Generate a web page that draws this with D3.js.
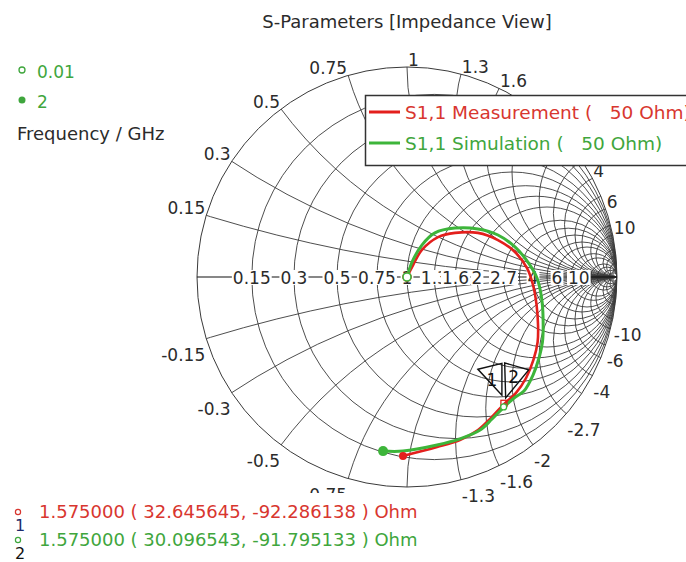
<!DOCTYPE html>
<html>
<head>
<meta charset="utf-8">
<script src="https://cdn.jsdelivr.net/npm/d3@7"></script>
<style>
  html, body { margin: 0; padding: 0; background: #fff; }
  svg { display: block; font-family: "DejaVu Sans", sans-serif; }
</style>
</head>
<body>
<script>
const measRe = [0, 0.029, 0.071, 0.148, 0.229, 0.338, 0.433, 0.514, 0.571, 0.600, 0.617, 0.624, 0.622, 0.602, 0.567, 0.519, 0.462, 0.400, 0.338, 0.252, 0.143, -0.019];
const measIm = [0, 0.057, 0.129, 0.190, 0.210, 0.210, 0.176, 0.119, 0.043, -0.038, -0.133, -0.229, -0.310, -0.395, -0.481, -0.552, -0.605, -0.671, -0.729, -0.776, -0.810, -0.852];
const simRe = [0, 0.024, 0.071, 0.133, 0.229, 0.338, 0.433, 0.514, 0.576, 0.619, 0.641, 0.648, 0.645, 0.630, 0.600, 0.557, 0.510, 0.457, 0.405, 0.348, 0.252, 0.143, -0.019, -0.114];
const simIm = [0, 0.071, 0.152, 0.210, 0.233, 0.229, 0.200, 0.143, 0.071, -0.005, -0.100, -0.195, -0.310, -0.381, -0.467, -0.543, -0.576, -0.624, -0.676, -0.729, -0.771, -0.800, -0.829, -0.829];

const freqRange = ["0.01", "2"];
const seriesNames = ["S1,1 Measurement (   50 Ohm)", "S1,1 Simulation (   50 Ohm)"];
const z0 = 50;
const markerFreq = 1.575;
const markerR = [32.645645, 30.096543];
const markerX = [-92.286138, -91.795133];

// grid values (normalized r and x)
const majorTicks = [0.15, 0.3, 0.5, 0.75, 1, 1.3, 1.6, 2, 2.7, 4, 6, 10];
const minorTicks = [3.3, 5, 8, 15, 20, 30, 50];

const colors = {
  meas: "#e31f1c", sim: "#3db53a",
  measText: "#d8362f", simText: "#3fa63d",
  grid: "#3a3a3a", text: "#2b2b2b"
};

class smithChart {
  width = 686;
  height = 562;
  cx = 407;
  cy = 277;
  radius = 210;
  legendBox = {x: 365.5, y: 95.5, w: 340, h: 70};
  panelTop = 493;

  init = () => {
    this.svg = d3.select("body").append("svg")
      .attr("width", this.width)
      .attr("height", this.height);

    this.x = d3.scaleLinear().domain([-1, 1]).range([this.cx - this.radius, this.cx + this.radius]);
    this.y = d3.scaleLinear().domain([-1, 1]).range([this.cy + this.radius, this.cy - this.radius]);
    this.k = this.radius; // pixels per unit of gamma

    this._drawGrid();
    this._drawAxisLabels();
    this._lineAdding();
    this._markers();
    this._legend();
    this._texts();
  }

  // z (normalized) -> gamma
  _gamma = (r, xx) => {
    const dr = r + 1, nr = r - 1;
    const den = dr * dr + xx * xx;
    return [(nr * dr + xx * xx) / den, (xx * dr - nr * xx) / den];
  }

  _drawGrid = () => {
    this.svg.append("clipPath").attr("id", "unit")
      .append("circle")
      .attr("cx", this.x(0)).attr("cy", this.y(0)).attr("r", this.k);

    const g = this.svg.append("g")
      .attr("clip-path", "url(#unit)")
      .attr("fill", "none")
      .attr("stroke", colors.grid)
      .attr("stroke-width", 0.9);

    const rVals = majorTicks.concat(minorTicks);
    g.selectAll(".rc").data(rVals).join("circle")
      .attr("cx", d => this.x(d / (1 + d)))
      .attr("cy", this.y(0))
      .attr("r", d => this.k / (1 + d));

    const xVals = rVals.concat(rVals.map(d => -d));
    g.selectAll(".xc").data(xVals).join("circle")
      .attr("cx", this.x(1))
      .attr("cy", d => this.y(1 / d))
      .attr("r", d => this.k / Math.abs(d));

    this.svg.append("circle")
      .attr("cx", this.x(0)).attr("cy", this.y(0)).attr("r", this.k)
      .attr("fill", "none").attr("stroke", colors.grid).attr("stroke-width", 1);

    this.svg.append("line")
      .attr("x1", this.x(-1)).attr("x2", this.x(1))
      .attr("y1", this.y(0)).attr("y2", this.y(0))
      .attr("stroke", "#111").attr("stroke-width", 1.2);
  }

  _drawAxisLabels = () => {
    const fs = 17;
    const lb = this.legendBox;
    // reactance labels around the rim
    const xVals = majorTicks.concat(majorTicks.map(d => -d));
    xVals.forEach(v => {
      const p = this._gamma(0, v);
      const px = this.x(p[0]), py = this.y(p[1]);
      const ty = v > 0 ? py - 1 : py + 22;
      // labels that sit fully under the legend box or the readout panel are not shown
      if (px > lb.x && ty > lb.y + 10 && ty < lb.y + lb.h + 10) return;
      if (ty - 12 > this.panelTop && px < 430) return;
      this.svg.append("text")
        .attr("x", p[0] < -1e-6 ? px - 1 : px + 1)
        .attr("y", ty)
        .attr("text-anchor", p[0] < -1e-6 ? "end" : "start")
        .attr("font-size", fs)
        .attr("fill", colors.text)
        .text(v > 0 ? v : "-" + Math.abs(v));
    });

    // resistance labels on the real axis, white boxes
    majorTicks.forEach(v => {
      const px = this.x((v - 1) / (v + 1));
      const t = this.svg.append("text")
        .attr("x", px).attr("y", this.y(0) + 7)
        .attr("text-anchor", "middle")
        .attr("font-size", fs)
        .attr("fill", colors.text)
        .text(v);
      const bb = t.node().getBBox();
      this.svg.insert("rect", () => t.node())
        .attr("x", bb.x - 1).attr("y", this.y(0) - 7)
        .attr("width", bb.width + 2).attr("height", 15)
        .attr("fill", "#fff");
    });
  }

  _lineAdding = () => {
    const line = d3.line()
      .x(d => this.x(d[0]))
      .y(d => this.y(d[1]))
      .curve(d3.curveCatmullRom);

    const meas = measRe.map((d, i) => [d, measIm[i]]);
    const sim = simRe.map((d, i) => [d, simIm[i]]);

    this.svg.append("path").datum(meas)
      .attr("fill", "none").attr("stroke", colors.meas).attr("stroke-width", 2.6)
      .attr("d", line);
    this.svg.append("path").datum(sim)
      .attr("fill", "none").attr("stroke", colors.sim).attr("stroke-width", 3)
      .attr("d", line);

    // start (open) and stop (filled) points
    [[meas, colors.meas, 4], [sim, colors.sim, 5]].forEach(([s, c, r]) => {
      const a = s[0], b = s[s.length - 1];
      this.svg.append("circle")
        .attr("cx", this.x(b[0])).attr("cy", this.y(b[1])).attr("r", r)
        .attr("fill", c);
      this.svg.append("circle")
        .attr("cx", this.x(a[0])).attr("cy", this.y(a[1])).attr("r", 4)
        .attr("fill", "#fff").attr("stroke", c).attr("stroke-width", 1.6);
    });
  }

  _markers = () => {
    const pts = markerR.map((r, i) => this._gamma(r / z0, markerX[i] / z0));
    const m1 = [this.x(pts[0][0]), this.y(pts[0][1])];
    const m2 = [this.x(pts[1][0]), this.y(pts[1][1])];

    this.svg.append("rect")
      .attr("x", m1[0] - 3).attr("y", m1[1] - 3).attr("width", 6).attr("height", 6)
      .attr("fill", "none").attr("stroke", colors.meas).attr("stroke-width", 1.3);
    this.svg.append("circle")
      .attr("cx", m2[0]).attr("cy", m2[1]).attr("r", 3)
      .attr("fill", "#fff").attr("stroke", colors.sim).attr("stroke-width", 1.3);

    const flag = (pts) => pts.map(p => p.join(",")).join(" ");
    this.svg.append("polygon")
      .attr("points", flag([[m1[0] - 26, m1[1] - 34], [m1[0] - 2, m1[1] - 40], [m1[0] - 2, m1[1] - 8]]))
      .attr("fill", "none").attr("stroke", "#111").attr("stroke-width", 1.4);
    this.svg.append("polygon")
      .attr("points", flag([[m2[0] + 1, m2[1] - 44], [m2[0] + 25, m2[1] - 37], [m2[0] + 2, m2[1] - 9]]))
      .attr("fill", "none").attr("stroke", "#111").attr("stroke-width", 1.4);
    this.svg.append("text").attr("x", m1[0] - 12).attr("y", m1[1] - 17)
      .attr("text-anchor", "middle").attr("font-size", 17).attr("fill", "#111").text("1");
    this.svg.append("text").attr("x", m2[0] + 10).attr("y", m2[1] - 24)
      .attr("text-anchor", "middle").attr("font-size", 17).attr("fill", "#111").text("2");
  }

  _legend = () => {
    const lb = this.legendBox;
    const lg = this.svg.append("g");
    lg.append("rect")
      .attr("x", lb.x).attr("y", lb.y).attr("width", lb.w).attr("height", lb.h)
      .attr("fill", "#fff").attr("stroke", "#333").attr("stroke-width", 1.5);
    [[colors.meas, colors.measText, 112], [colors.sim, colors.simText, 143]].forEach(([c, tc, yy], i) => {
      lg.append("line")
        .attr("x1", 369).attr("x2", 400).attr("y1", yy).attr("y2", yy)
        .attr("stroke", c).attr("stroke-width", 3);
      lg.append("text")
        .attr("x", 405).attr("y", yy + 7)
        .attr("font-size", 18.5).attr("fill", tc)
        .style("white-space", "pre")
        .text(seriesNames[i]);
    });

    // frequency range legend
    const fl = this.svg.append("g");
    fl.append("circle").attr("cx", 22).attr("cy", 70).attr("r", 3)
      .attr("fill", "none").attr("stroke", colors.simText).attr("stroke-width", 1.3);
    fl.append("circle").attr("cx", 22).attr("cy", 100).attr("r", 3.5)
      .attr("fill", colors.simText);
    fl.append("text").attr("x", 37).attr("y", 78).attr("font-size", 17)
      .attr("fill", colors.simText).text(freqRange[0]);
    fl.append("text").attr("x", 37).attr("y", 108).attr("font-size", 17)
      .attr("fill", colors.simText).text(freqRange[1]);
    fl.append("text").attr("x", 17).attr("y", 140).attr("font-size", 18)
      .attr("fill", colors.text).text("Frequency / GHz");
  }

  _texts = () => {
    this.svg.append("text")
      .attr("x", this.cx).attr("y", 28)
      .attr("text-anchor", "middle").attr("font-size", 18)
      .attr("fill", colors.text)
      .text("S-Parameters [Impedance View]");

    // marker readout panel
    this.svg.append("rect")
      .attr("x", 0).attr("y", this.panelTop).attr("width", 425).attr("height", this.height - this.panelTop)
      .attr("fill", "#fff");

    const rows = [[colors.measText, "#1d2a6b", 518], [colors.simText, "#111", 546]];
    rows.forEach(([c, nc, yy], i) => {
      this.svg.append("circle").attr("cx", 18).attr("cy", yy - 6).attr("r", 2.6)
        .attr("fill", "none").attr("stroke", c).attr("stroke-width", 1.2);
      this.svg.append("text").attr("x", 20).attr("y", Math.min(yy + 13, 559))
        .attr("text-anchor", "middle").attr("font-size", 16).attr("fill", nc).text(i + 1);
      this.svg.append("text").attr("x", 39).attr("y", yy)
        .attr("font-size", 18).attr("fill", c)
        .style("white-space", "pre")
        .text(`${markerFreq.toFixed(6)} ( ${markerR[i].toFixed(6)}, ${markerX[i].toFixed(6)} ) Ohm`);
    });
  }
}

const chart = new smithChart();
chart.init();
</script>
</body>
</html>
